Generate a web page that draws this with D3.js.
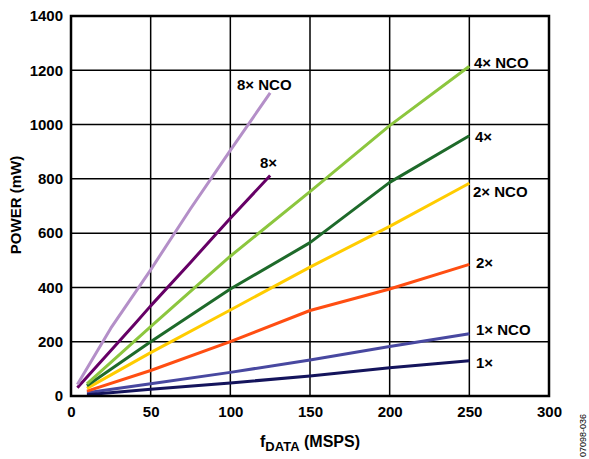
<!DOCTYPE html>
<meta charset="utf-8">
<style>
body { margin: 0; background: #fff; }
text { font-family: "Liberation Sans", Arial, sans-serif; font-weight: bold; fill: #000; }
.grid line { stroke: #000; stroke-width: 1.5px; }
.series { fill: none; stroke-width: 3px; stroke-linejoin: round; }
</style>
<body>
<script src="https://cdn.jsdelivr.net/npm/d3@7"></script>
<script>

// data (fDATA in MSPS, power in mW)
var x1 = [10, 50, 100, 150, 200, 250];
var p1x = [5, 25, 48, 74, 104, 130];
var p1xNco = [12, 45, 87, 133, 182, 229];
var p2x = [18, 94, 200, 315, 394, 485];
var p2xNco = [28, 160, 317, 475, 625, 784];
var p4x = [38, 200, 394, 565, 787, 959];
var p4xNco = [45, 256, 515, 753, 996, 1215];
var x8 = [4, 40, 50, 75, 100, 125];
var p8x = [30, 265, 332, 492, 655, 812];
var x8nco = [4, 25, 50, 75, 100, 125];
var p8xNco = [42, 250, 465, 690, 905, 1117];

var xTicks = [0, 50, 100, 150, 200, 250, 300];
var yTicks = [0, 200, 400, 600, 800, 1000, 1200, 1400];

var series = [
  { name: "1× NCO", xs: x1, ys: p1xNco, color: "#4848a0", lx: 476, ly: 335 },
  { name: "1×", xs: x1, ys: p1x, color: "#14145c", lx: 476, ly: 368 },
  { name: "2×", xs: x1, ys: p2x, color: "#ff4e12", lx: 476, ly: 268 },
  { name: "2× NCO", xs: x1, ys: p2xNco, color: "#ffcc00", lx: 473, ly: 197 },
  { name: "4×", xs: x1, ys: p4x, color: "#1e6a2a", lx: 475, ly: 142 },
  { name: "4× NCO", xs: x1, ys: p4xNco, color: "#8cc63e", lx: 474, ly: 68 },
  { name: "8×", xs: x8, ys: p8x, color: "#660066", lx: 260, ly: 168 },
  { name: "8× NCO", xs: x8nco, ys: p8xNco, color: "#b48fc8", lx: 237, ly: 90 }
];

var margin = {top: 16, left: 71},
    width = 549 - 71,
    height = 396 - 16;

var x = d3.scaleLinear().domain([0, 300]).range([0, width]);
var y = d3.scaleLinear().domain([0, 1400]).range([height, 0]);

var svg = d3.select("body").append("svg")
    .attr("width", 589)
    .attr("height", 459);

var g = svg.append("g")
    .attr("transform", "translate(" + margin.left + "," + margin.top + ")");

// grid
var grid = g.append("g").attr("class", "grid");
grid.selectAll(".vx").data(xTicks).enter().append("line")
    .attr("x1", function(d) { return x(d); })
    .attr("x2", function(d) { return x(d); })
    .attr("y1", 0).attr("y2", height);
grid.selectAll(".hy").data(yTicks).enter().append("line")
    .attr("y1", function(d) { return y(d); })
    .attr("y2", function(d) { return y(d); })
    .attr("x1", 0).attr("x2", width);

// lines
var line = d3.line()
    .x(function(d) { return x(d[0]); })
    .y(function(d) { return y(d[1]); });

g.selectAll(".series").data(series).enter().append("path")
    .attr("class", "series")
    .attr("stroke", function(d) { return d.color; })
    .attr("d", function(d) { return line(d3.zip(d.xs, d.ys)); });

// frame
g.append("rect")
    .attr("width", width).attr("height", height)
    .attr("fill", "none").attr("stroke", "#000").attr("stroke-width", 2.5);

// axes
var xAxis = g.append("g")
    .attr("transform", "translate(0," + height + ")")
    .call(d3.axisBottom(x).tickValues(xTicks).tickFormat(d3.format("d")).tickSize(0).tickPadding(10));
var yAxis = g.append("g")
    .call(d3.axisLeft(y).tickValues(yTicks).tickFormat(d3.format("d")).tickSize(0).tickPadding(8));
[xAxis, yAxis].forEach(function(a) {
  a.select(".domain").remove();
  a.selectAll("text").style("font-size", "15px").style("font-family", "Liberation Sans, Arial, sans-serif").style("font-weight", "bold");
});

// series labels
svg.selectAll(".lbl").data(series).enter().append("text")
    .attr("x", function(d) { return d.lx; })
    .attr("y", function(d) { return d.ly; })
    .style("font-size", "15px")
    .text(function(d) { return d.name; });

// axis titles
svg.append("text")
    .attr("transform", "translate(21,205) rotate(-90)")
    .attr("text-anchor", "middle")
    .style("font-size", "15px")
    .text("POWER (mW)");

var xt = svg.append("text")
    .attr("x", 310).attr("y", 447)
    .attr("text-anchor", "middle")
    .style("font-size", "16px");
xt.append("tspan").text("f");
xt.append("tspan").attr("dy", 4).style("font-size", "13px").text("DATA");
xt.append("tspan").attr("dy", -4).text(" (MSPS)");

svg.append("text")
    .attr("transform", "translate(586,457) rotate(-90)")
    .style("font-size", "9px")
    .style("font-weight", "normal")
    .text("07098-036");

</script>
</body>
